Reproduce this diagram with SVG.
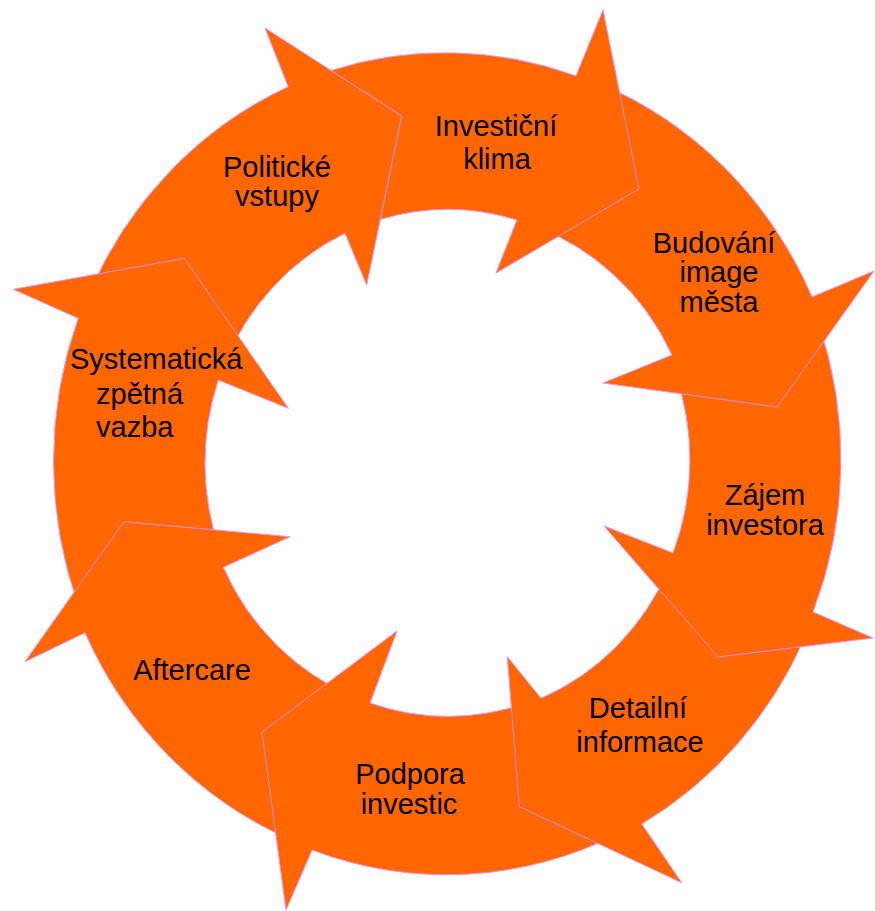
<svg xmlns="http://www.w3.org/2000/svg" width="875" height="911" viewBox="0 0 875 911">
<style>
.arr { fill:#FF6600; stroke:#F08CF0; stroke-width:1; stroke-linejoin:miter; }
.lbl { font-family:"Liberation Sans", Arial, sans-serif; font-size:29px; fill:#000000; text-anchor:middle; }
.st { text-anchor:start; }
</style>
<rect width="875" height="911" fill="#FFFFFF"/>
<g id="politicke-vstupy">
<path class="arr" d="M 88.4 295.2 A 394 411 0 0 1 288.3 86.7 L 265 28 L 401.7 116 L 366.7 285 L 345 233.3 A 243 253.5 0 0 0 223.7 365.6 Z"/>
<text class="lbl" x="277" y="176.5">Politické</text>
<text class="lbl" x="277" y="205.5">vstupy</text>
</g>
<g id="systematicka-zpetna-vazba">
<path class="arr" d="M 79.2 607.6 A 394 411 0 0 1 78.3 318.3 L 13.3 289.3 L 184.3 258.3 L 288.3 408.3 L 218.3 380 A 243 253.5 0 0 0 220.4 551.8 Z"/>
<text class="lbl st" x="70" y="368.5">Systematická</text>
<text class="lbl st" x="96" y="403.5">zpětná</text>
<text class="lbl st" x="96" y="437">vazba</text>
</g>
<g id="aftercare">
<path class="arr" d="M 290.3 839.6 A 394 411 0 0 1 85 632.7 L 25 661.7 L 124 521.7 L 290 536.7 L 223.3 567.3 A 243 253.5 0 0 0 356.2 697.7 Z"/>
<text class="lbl" x="192" y="680">Aftercare</text>
</g>
<g id="podpora-investic">
<path class="arr" d="M 618.9 833.4 A 394 411 0 0 1 312 850 L 286 910 L 262 732 L 397 631 L 370 703 A 243 253.5 0 0 0 526.7 702.8 Z"/>
<text class="lbl" x="410" y="783.5">Podpora</text>
<text class="lbl" x="409" y="813.5">investic</text>
</g>
<g id="detailni-informace">
<path class="arr" d="M 805.4 636 A 394 411 0 0 1 641.7 824 L 681.7 882.7 L 519.3 806.7 L 507.3 656.7 L 541 698.3 A 243 253.5 0 0 0 669.1 568.1 Z"/>
<text class="lbl" x="638" y="717.5">Detailní</text>
<text class="lbl" x="640" y="752">informace</text>
</g>
<g id="zajem-investora">
<path class="arr" d="M 818 321.7 A 394 411 0 0 1 813 612 L 873 638 L 718 657 L 604 526 L 673 553 A 243 253.5 0 0 0 674.4 370.9 Z"/>
<text class="lbl" x="765" y="505">Zájem</text>
<text class="lbl" x="765" y="534.5">investora</text>
</g>
<g id="budovani-image-mesta">
<path class="arr" d="M 598.8 83.3 A 394 411 0 0 1 812 297 L 874 271 L 777 407 L 603 383 L 672 355 A 243 253.5 0 0 0 531.1 224.8 Z"/>
<text class="lbl" x="714" y="253">Budování</text>
<text class="lbl" x="719" y="282">image</text>
<text class="lbl" x="719" y="311.5">města</text>
</g>
<g id="investicni-klima">
<path class="arr" d="M 331 70.5 A 394 411 0 0 1 576 76 L 603 10 L 639 189 L 496 273 L 517 220 A 243 253.5 0 0 0 380.3 219.4 L 401.7 116 Z"/>
<text class="lbl" x="496" y="136">Investiční</text>
<text class="lbl" x="497" y="169">klima</text>
</g>
</svg>
